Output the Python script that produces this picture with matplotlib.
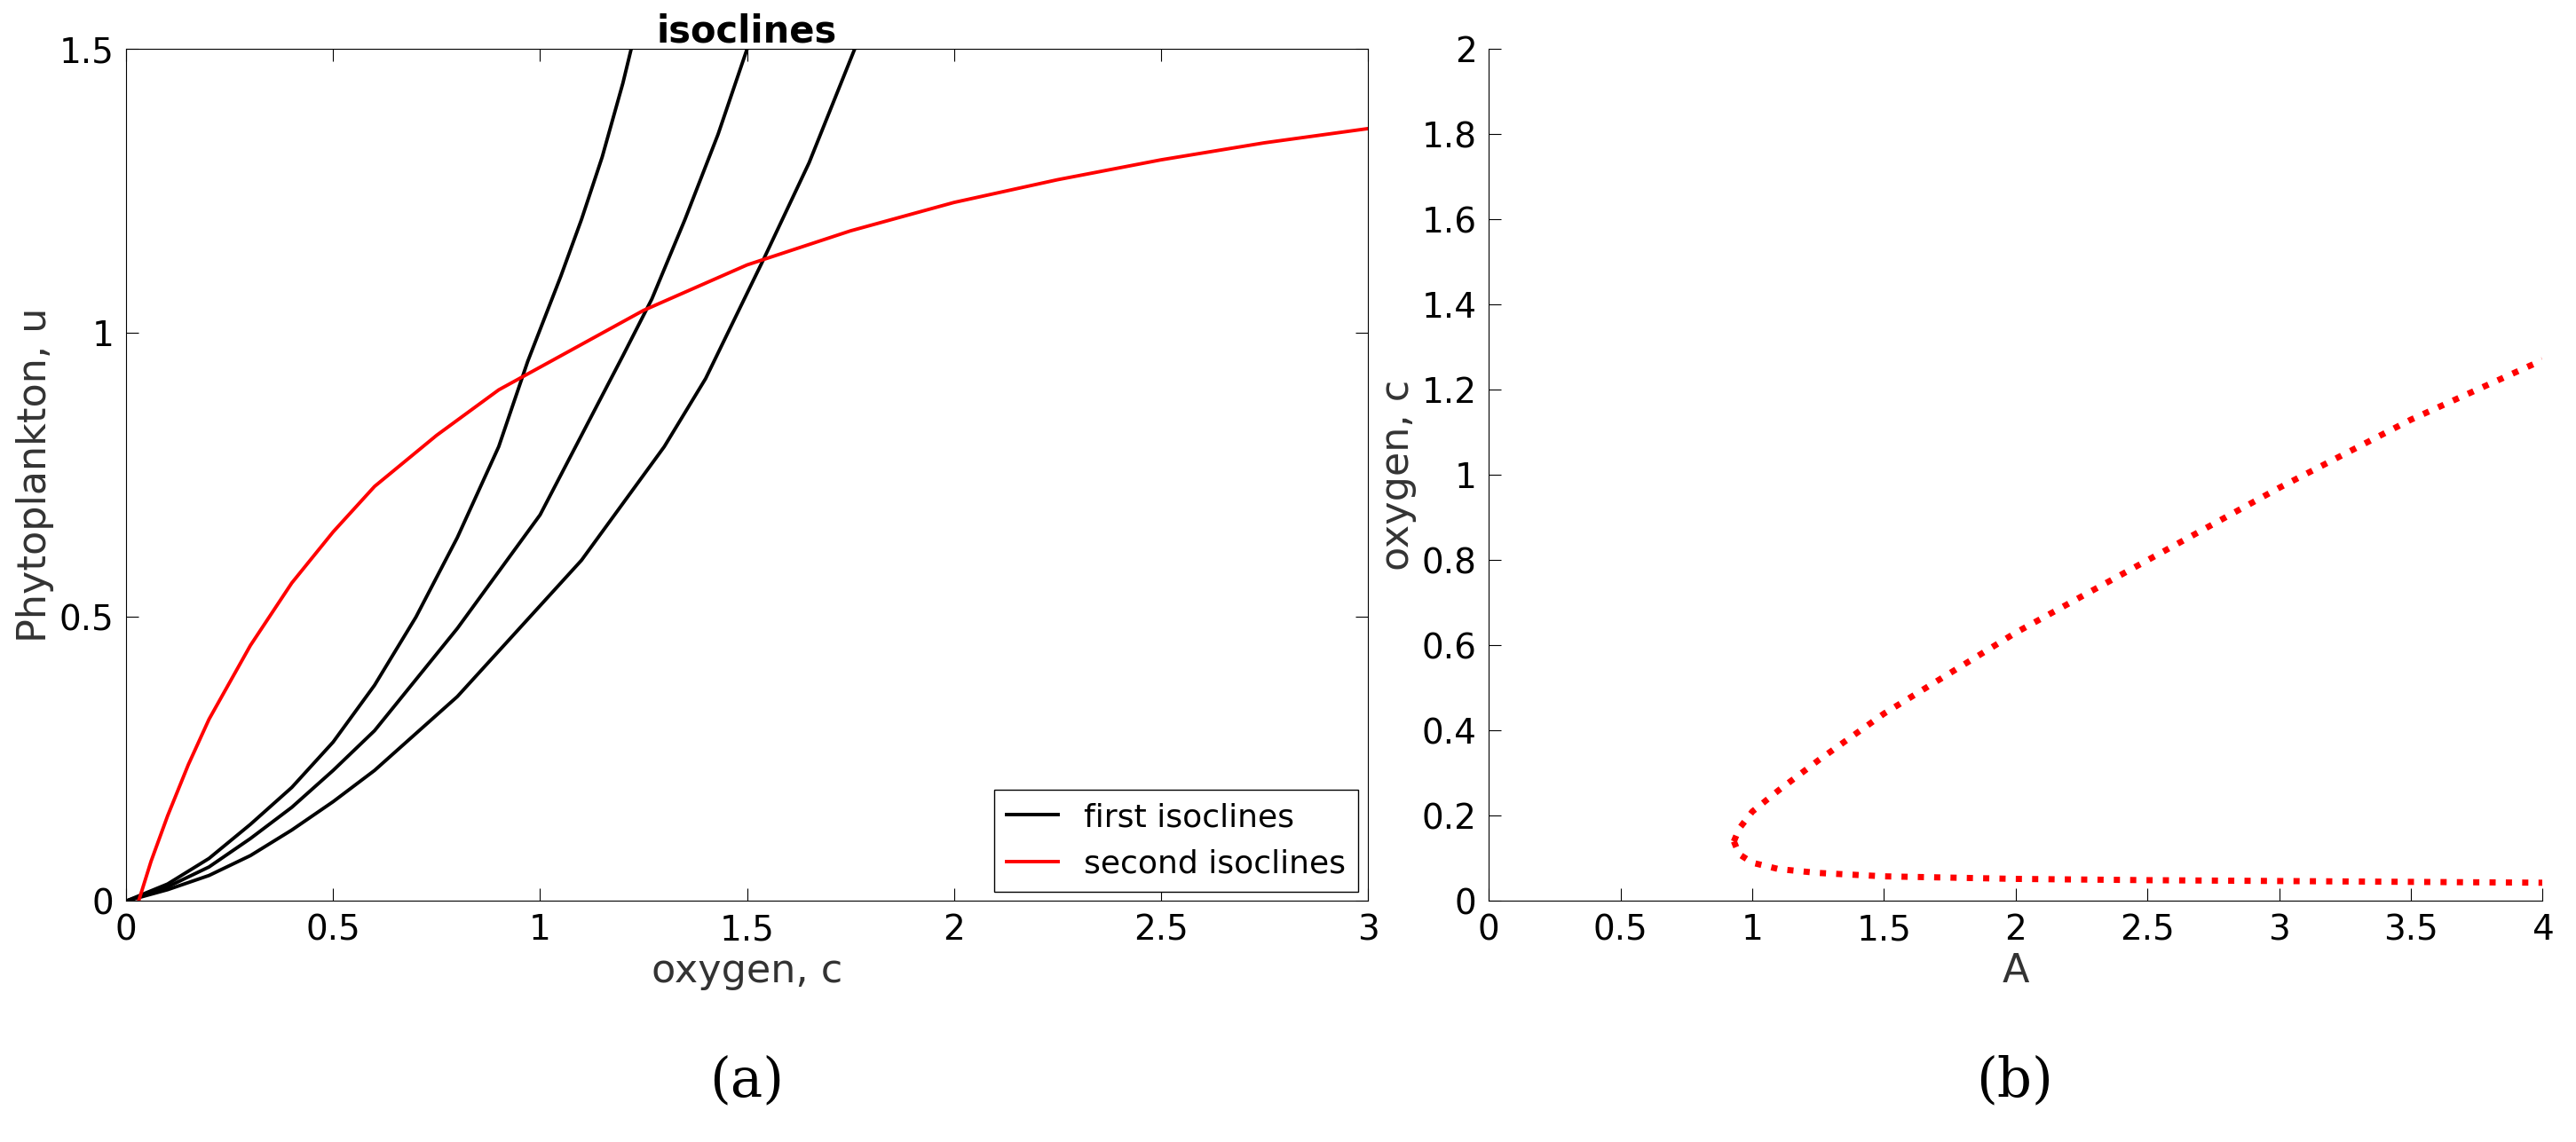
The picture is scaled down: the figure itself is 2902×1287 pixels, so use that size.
import matplotlib
matplotlib.use("Agg")
import matplotlib.pyplot as plt
import numpy as np

c1 = [0, 0.1, 0.2, 0.3, 0.4, 0.5, 0.6, 0.7, 0.8, 0.9, 0.97, 1.05, 1.1, 1.15, 1.2, 1.22]
u1 = [0, 0.03, 0.075, 0.135, 0.2, 0.28, 0.38, 0.5, 0.64, 0.8, 0.95, 1.1, 1.2, 1.31, 1.44, 1.5]
c2 = [0, 0.1, 0.2, 0.3, 0.4, 0.5, 0.6, 0.7, 0.8, 0.9, 1.0, 1.1, 1.2, 1.27, 1.35, 1.43, 1.5]
u2 = [0, 0.025, 0.06, 0.11, 0.165, 0.23, 0.3, 0.39, 0.48, 0.58, 0.68, 0.82, 0.96, 1.06, 1.2, 1.35, 1.5]
c3 = [0, 0.1, 0.2, 0.3, 0.4, 0.5, 0.6, 0.7, 0.8, 0.9, 1.0, 1.1, 1.2, 1.3, 1.4, 1.54, 1.65, 1.76]
u3 = [0, 0.02, 0.045, 0.08, 0.125, 0.175, 0.23, 0.295, 0.36, 0.44, 0.52, 0.6, 0.7, 0.8, 0.92, 1.13, 1.3, 1.5]
cr = [0.03, 0.06, 0.1, 0.15, 0.2, 0.3, 0.4, 0.5, 0.6, 0.75, 0.9, 1.0, 1.25, 1.5, 1.75, 2.0, 2.25, 2.5, 2.75, 3.0]
ur = [0, 0.07, 0.15, 0.24, 0.32, 0.45, 0.56, 0.65, 0.73, 0.82, 0.9, 0.94, 1.04, 1.12, 1.18, 1.23, 1.27, 1.305, 1.335, 1.36]

A_up = [0.93, 0.95, 1.0, 1.1, 1.25, 1.5, 2.0, 2.5, 3.0, 3.5, 4.0]
c_up = [0.14, 0.17, 0.21, 0.26, 0.33, 0.44, 0.63, 0.80, 0.97, 1.13, 1.27]
A_lo = [0.93, 0.95, 1.0, 1.1, 1.25, 1.5, 2.0, 2.5, 3.0, 3.5, 4.0]
c_lo = [0.14, 0.11, 0.09, 0.075, 0.066, 0.058, 0.052, 0.049, 0.047, 0.045, 0.043]

fig = plt.figure(figsize=(29.02, 12.87), dpi=100)
plt.rcParams['font.family'] = ['DejaVu Sans']
ax1 = fig.add_axes([0.049, 0.211, 0.482, 0.746])
ax1.plot(c1, u1, 'k', lw=2.8, label='first isoclines')
ax1.plot(c2, u2, 'k', lw=2.8)
ax1.plot(c3, u3, 'k', lw=2.8)
ax1.plot(cr, ur, 'r', lw=2.8, label='second isoclines')
ax1.set_xlim(0, 3); ax1.set_ylim(0, 1.5)
ax1.set_xticks([0, 0.5, 1, 1.5, 2, 2.5, 3]); ax1.set_xticklabels(['0', '0.5', '1', '1.5', '2', '2.5', '3'])
ax1.set_yticks([0, 0.5, 1, 1.5]); ax1.set_yticklabels(['0', '0.5', '1', '1.5'])
ax1.tick_params(direction='in', top=True, right=True, labelsize=28, length=10, pad=10)
ax1.set_xlabel('oxygen, c', fontsize=32, color='#333333')
ax1.set_ylabel('Phytoplankton, u', fontsize=32, color='#333333')
ax1.set_title('isoclines', fontsize=30, fontweight='bold')
ax1.legend(loc='lower right', fontsize=26, fancybox=False, edgecolor='k', handlelength=1.6,
           framealpha=1, borderaxespad=0.3)

ax2 = fig.add_axes([0.578, 0.211, 0.409, 0.746])
ax2.plot(A_up, c_up, 'r:', lw=5)
ax2.plot(A_lo, c_lo, 'r:', lw=5)
ax2.set_xlim(0, 4); ax2.set_ylim(0, 2)
ax2.set_xticks(np.arange(0, 4.01, 0.5)); ax2.set_xticklabels(['0', '0.5', '1', '1.5', '2', '2.5', '3', '3.5', '4'])
ax2.set_yticks(np.arange(0, 2.01, 0.2)); ax2.set_yticklabels(['0', '0.2', '0.4', '0.6', '0.8', '1', '1.2', '1.4', '1.6', '1.8', '2'])
ax2.spines['top'].set_visible(False); ax2.spines['right'].set_visible(False)
ax2.tick_params(direction='in', labelsize=28, length=10, pad=10)
ax2.set_xlabel('A', fontsize=32, color='#333333')
ax2.set_ylabel('oxygen, c', fontsize=32, color='#333333')

fig.text(0.29, 0.04, '(a)', fontsize=44, family='DejaVu Serif', ha='center')
fig.text(0.782, 0.04, '(b)', fontsize=44, family='DejaVu Serif', ha='center')
fig.savefig('out.png', dpi=100)
